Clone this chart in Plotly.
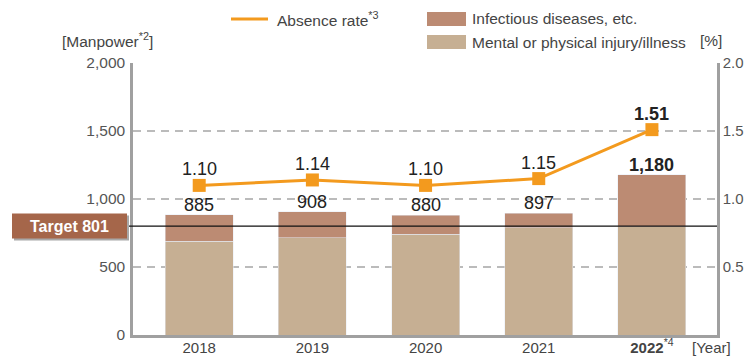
import plotly.graph_objects as go

# Absence data by fiscal year
years = ["2018", "2019", "2020", "2021", "<b>2022</b><sup>*4</sup>"]
mental_physical = [691, 715, 742, 787, 795]
totals = [885, 908, 880, 897, 1180]
infectious = [t - m for t, m in zip(totals, mental_physical)]
absence_rate = [1.10, 1.14, 1.10, 1.15, 1.51]
target = 801

W, H = 748, 357
L, R, T, B = 133, 31, 63, 22
PW, PH = W - L - R, H - T - B

def px(xp):
    return (xp - L) / PW

def py(yp):
    return (H - B - yp) / PH

C_INF = "#BC8B73"
C_MEN = "#C6AF93"
C_ORANGE = "#F39A1E"
C_TARGET = "#A5664A"
FONT = "Liberation Sans, Arial, sans-serif"
TXT = 15.5

x = list(range(len(years)))

fig = go.Figure()
fig.add_bar(x=x, y=mental_physical, marker_color=C_MEN, width=0.6,
            name="Mental or physical injury/illness", hoverinfo="skip")
fig.add_bar(x=x, y=infectious, marker_color=C_INF, width=0.6,
            name="Infectious diseases, etc.", hoverinfo="skip")
fig.add_scatter(x=x, y=absence_rate, yaxis="y2", mode="lines+markers",
                line=dict(color=C_ORANGE, width=3),
                marker=dict(symbol="square", size=13, color=C_ORANGE),
                name="Absence rate", hoverinfo="skip")

annotations = []
shapes = []

# Bar totals and rate labels
for i, (t, r) in enumerate(zip(totals, absence_rate)):
    last = i == len(totals) - 1
    t_txt = f"{t:,}"
    r_txt = f"{r:.2f}"
    if last:
        t_txt = f"<b>{t_txt}</b>"
        r_txt = f"<b>{r_txt}</b>"
    annotations.append(dict(x=i, y=t, xref="x", yref="y", text=t_txt,
                            showarrow=False, yanchor="bottom", yshift=-2,
                            font=dict(size=18, color="#222", family=FONT)))
    annotations.append(dict(x=i, y=r, xref="x", yref="y2", text=r_txt,
                            showarrow=False, yanchor="bottom", yshift=4,
                            font=dict(size=18, color="#222", family=FONT)))

# Target line and label box (with drop shadow)
shapes.append(dict(type="line", xref="paper", yref="y", x0=px(127), x1=1,
                   y0=target, y1=target, line=dict(color="#111", width=1.2)))
shapes.append(dict(type="rect", xref="paper", yref="y", ysizemode="pixel",
                   yanchor=target, x0=px(14), x1=px(129), y0=-14.5, y1=10.5,
                   fillcolor="#A8A8A8", line_width=0))
shapes.append(dict(type="rect", xref="paper", yref="y", ysizemode="pixel",
                   yanchor=target, x0=px(12), x1=px(127), y0=-12.5, y1=12.5,
                   fillcolor=C_TARGET, line_width=0))
annotations.append(dict(xref="paper", yref="y", x=px(69.5), y=target,
                        xanchor="center", yanchor="middle",
                        text=f"<b>Target {target}</b>", showarrow=False,
                        font=dict(size=16, color="white", family=FONT)))

# Legend
shapes.append(dict(type="line", xref="paper", yref="paper", x0=px(231), x1=px(268),
                   y0=py(19), y1=py(19), line=dict(color=C_ORANGE, width=3)))
annotations.append(dict(xref="paper", yref="paper", x=px(275), y=py(19),
                        xanchor="left", yanchor="middle",
                        text="Absence rate<sup>*3</sup>", showarrow=False,
                        font=dict(size=TXT, color="#444", family=FONT)))
shapes.append(dict(type="rect", xref="paper", yref="paper", x0=px(427), x1=px(466),
                   y0=py(26), y1=py(12), fillcolor=C_INF, line_width=0))
annotations.append(dict(xref="paper", yref="paper", x=px(470), y=py(19),
                        xanchor="left", yanchor="middle",
                        text="Infectious diseases, etc.", showarrow=False,
                        font=dict(size=TXT, color="#444", family=FONT)))
shapes.append(dict(type="rect", xref="paper", yref="paper", x0=px(427), x1=px(466),
                   y0=py(49), y1=py(35), fillcolor=C_MEN, line_width=0))
annotations.append(dict(xref="paper", yref="paper", x=px(470), y=py(42),
                        xanchor="left", yanchor="middle",
                        text="Mental or physical injury/illness", showarrow=False,
                        font=dict(size=TXT, color="#444", family=FONT)))

# Axis unit labels
annotations.append(dict(xref="paper", yref="paper", x=px(60), y=py(40),
                        xanchor="left", yanchor="middle",
                        text="[Manpower<sup>*2</sup>]", showarrow=False,
                        font=dict(size=TXT, color="#444", family=FONT)))
annotations.append(dict(xref="paper", yref="paper", x=px(698), y=py(40),
                        xanchor="left", yanchor="middle", text="[%]",
                        showarrow=False,
                        font=dict(size=TXT, color="#444", family=FONT)))
annotations.append(dict(xref="paper", yref="paper", x=px(690), y=py(347),
                        xanchor="left", yanchor="middle", text="[Year]",
                        showarrow=False,
                        font=dict(size=15, color="#444", family=FONT)))

grid = dict(showgrid=True, gridcolor="#BBBBBB", gridwidth=1.5, griddash="8px,6px")

fig.update_layout(
    width=W, height=H,
    margin=dict(l=L, r=R, t=T, b=B, pad=0, autoexpand=False),
    paper_bgcolor="white", plot_bgcolor="white",
    barmode="stack", showlegend=False,
    font=dict(family=FONT, color="#444", size=TXT),
    xaxis=dict(range=[-0.585, 4.575], tickvals=x, ticktext=years,
               showgrid=False, zeroline=False, showline=True, automargin=False,
               linecolor="#A0A0A0", linewidth=2.5, ticks="",
               ticklabelstandoff=-3,
               tickfont=dict(size=15, color="#444")),
    yaxis=dict(range=[0, 2000], tickvals=[0, 500, 1000, 1500, 2000],
               ticktext=["0", "500", "1,000", "1,500", "2,000"],
               zeroline=False, showline=True, linecolor="#A0A0A0",
               automargin=False,
               linewidth=2.5, ticks="", ticklabelstandoff=2,
               tickfont=dict(size=TXT, color="#555"), **grid),
    yaxis2=dict(range=[0, 2.0], overlaying="y", side="right",
                tickvals=[0.5, 1.0, 1.5, 2.0],
                ticktext=["0.5", "1.0", "1.5", "2.0"],
                showgrid=False, zeroline=False, showline=True,
                automargin=False,
                linecolor="#A0A0A0", linewidth=2.5, ticks="",
                ticklabelstandoff=0,
                tickfont=dict(size=15, color="#555")),
    shapes=shapes,
    annotations=annotations,
)

fig.write_html("out.html")
